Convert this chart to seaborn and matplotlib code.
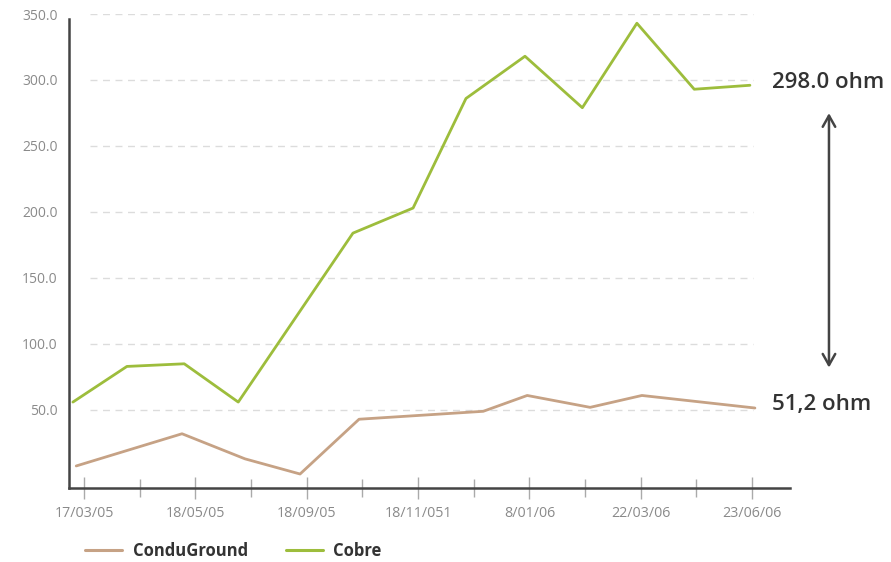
import matplotlib
matplotlib.use("Agg")
import matplotlib.pyplot as plt
import seaborn as sns
import pandas as pd

# ---- data ----
series_names = ["ConduGround", "Cobre"]
condu_x = [-0.14, 1.76, 2.89, 3.88, 4.94, 7.17, 7.96, 9.09, 10.02, 12.05]
condu_y = [7.6, 32, 13, 1.5, 43, 49, 61, 52, 61, 51.5]
cobre_x = [-0.20, 0.77, 1.80, 2.77, 4.83, 5.91, 6.86, 7.92, 8.95, 9.93, 10.96, 11.96]
cobre_y = [56, 83, 85, 56, 184, 203, 286, 318, 279, 343, 293, 296]
tick_labels = ["17/03/05", "18/05/05", "18/09/05", "18/11/051", "8/01/06", "22/03/06", "23/06/06"]
major_ticks = [0, 2, 4, 6, 8, 10, 12]
minor_ticks = [1, 3, 5, 7, 9, 11]
y_ticks = [50, 100, 150, 200, 250, 300, 350]
label_top = "298.0 ohm"
label_bottom = "51,2 ohm"
colors = {"ConduGround": "#c6a285", "Cobre": "#9dbd3c"}

df = pd.concat([
    pd.DataFrame({"x": condu_x, "value": condu_y, "series": "ConduGround"}),
    pd.DataFrame({"x": cobre_x, "value": cobre_y, "series": "Cobre"}),
], ignore_index=True)

sns.set_style("white")
plt.rcParams["font.family"] = ["Open Sans", "DejaVu Sans"]

fig = plt.figure(figsize=(8.91, 5.62), dpi=100)
ax = fig.add_axes([69/891, 1-488/562, (790-69)/891, (488-14)/562])

sns.lineplot(data=df, x="x", y="value", hue="series", hue_order=series_names,
             palette=colors, estimator=None, sort=False, linewidth=2.0, ax=ax)

ax.set_xlim(-0.27, 12.68)
ax.set_ylim(-9.1, 350)

# dashed gridlines
ax.hlines(y_ticks, 0.11, 12.02, colors="#dcdcdc", linestyles=(0, (5, 4)), linewidth=1.0, zorder=0)

ax.set_yticks(y_ticks)
ax.set_yticklabels([f"{v:.1f}" for v in y_ticks])
ax.set_xticks(major_ticks)
ax.set_xticklabels(tick_labels)
ax.set_xticks(minor_ticks, minor=True)
ax.tick_params(axis="y", length=0, pad=8, labelsize=10, labelcolor="#8a8a8a")
ax.tick_params(axis="x", which="both", bottom=True)
ax.tick_params(axis="x", which="major", direction="inout", length=16, width=1,
               color="#aaaaaa", pad=5, labelsize=10.3, labelcolor="#8a8a8a")
ax.tick_params(axis="x", which="minor", direction="inout", length=13, width=1, color="#aaaaaa")
ax.set_xlabel("")
ax.set_ylabel("")

for s in ["top", "right"]:
    ax.spines[s].set_visible(False)
for s in ["left", "bottom"]:
    ax.spines[s].set_color("#444444")
    ax.spines[s].set_linewidth(1.8)
ax.spines["left"].set_bounds(-9.1, 346)

# annotations
ax.text(12.36, 298, label_top, fontsize=16, fontweight="semibold", color="#333333",
        va="center", ha="left", clip_on=False)
ax.text(12.36, 54, label_bottom, fontsize=16, fontweight="semibold", color="#333333",
        va="center", ha="left", clip_on=False)
ax.annotate("", xy=(13.38, 277), xytext=(13.38, 80), annotation_clip=False,
            arrowprops=dict(arrowstyle="<->,head_length=0.8,head_width=0.45",
                            color="#444444", lw=1.8))

# legend
handles, labels = ax.get_legend_handles_labels()
leg = ax.legend(handles, labels, loc="center left", bbox_to_anchor=(85/891, 1-551/562),
                bbox_transform=fig.transFigure, ncol=2, frameon=False, borderpad=0,
                borderaxespad=0, handlelength=2.2, handletextpad=0.65, columnspacing=2.3,
                prop={"size": 12, "weight": "bold"})
for t in leg.get_texts():
    t.set_color("#333333")
for l in leg.get_lines():
    l.set_linewidth(2.2)

fig.savefig("out.png", dpi=100)
